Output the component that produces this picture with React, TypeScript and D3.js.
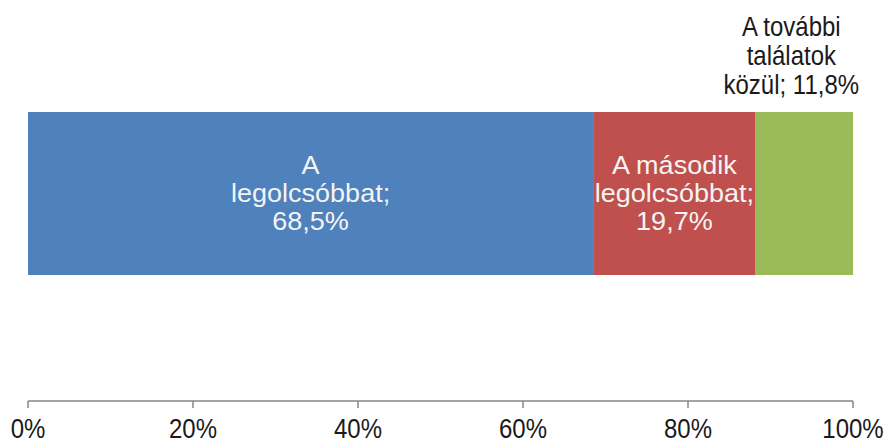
import React from "react";
import * as d3 from "d3";

const categories = ["A legolcsóbbat", "A második legolcsóbbat", "A további találatok közül"];
const values = [68.5, 19.7, 11.8];
const labelLines = [
  ["A", "legolcsóbbat;", "68,5%"],
  ["A második", "legolcsóbbat;", "19,7%"],
  ["A további", "találatok", "közül; 11,8%"],
];
const colors = ["#4F81BD", "#C0504D", "#9BBB59"];
const tickValues = [0, 20, 40, 60, 80, 100];
const tickLabels = ["0%", "20%", "40%", "60%", "80%", "100%"];

export default function App() {
  const W = 887, H = 444;
  const x = d3.scaleLinear().domain([0, 100]).range([28, 853]);
  const y = d3.scaleBand().domain(["bar"]).range([112, 275]).padding(0);
  const stackData = [Object.fromEntries(categories.map((c, i) => [c, values[i]]))];
  const series = d3.stack<any>().keys(categories)(stackData as any);
  const bandY = y("bar")!;
  const bandH = y.bandwidth();
  const axisY = 401;
  const font = "'Liberation Sans', Arial, sans-serif";

  return (
    <svg width={W} height={H} style={{ position: "absolute", left: 0, top: 0 }}>
      <rect x={0} y={0} width={W} height={H} fill="#ffffff" />
      {series.map((s, i) => {
        const d = s[0];
        return (
          <rect key={i} x={x(d[0])} y={bandY} width={x(d[1]) - x(d[0])} height={bandH} fill={colors[i]} />
        );
      })}
      {series.slice(0, 2).map((s, i) => {
        const d = s[0];
        const cx = (x(d[0]) + x(d[1])) / 2;
        const cy = bandY + bandH / 2;
        return (
          <g key={i} transform={`translate(${cx},0) scale(1.06,1)`}>
            <text fontFamily={font} fontSize={25.5} fill="#f4f4f4" textAnchor="middle">
              {labelLines[i].map((t, j) => (
                <tspan key={j} x={0} y={cy + (j - 1) * 28 + 9}>{t}</tspan>
              ))}
            </text>
          </g>
        );
      })}
      {(() => {
        const d = series[2][0];
        const cx = (x(d[0]) + x(d[1])) / 2 - 13;
        return (
          <g transform={`translate(${cx},0) scale(1,1.12)`}>
            <text fontFamily={font} fontSize={24} fill="#1a1a1a" textAnchor="middle">
              {labelLines[2].map((t, j) => (
                <tspan key={j} x={0} y={(36 + j * 29) / 1.12}>{t}</tspan>
              ))}
            </text>
          </g>
        );
      })()}
      <line x1={x(0)} x2={x(100)} y1={axisY} y2={axisY} stroke="#868686" strokeWidth={1.5} />
      {tickValues.map((t, i) => (
        <g key={t}>
          <line x1={x(t)} x2={x(t)} y1={axisY} y2={axisY + 7} stroke="#868686" strokeWidth={1.5} />
          <g transform={`translate(${x(t)},${438}) scale(1,1.15)`}>
            <text fontFamily={font} fontSize={24} fill="#1a1a1a" textAnchor="middle">{tickLabels[i]}</text>
          </g>
        </g>
      ))}
    </svg>
  );
}
